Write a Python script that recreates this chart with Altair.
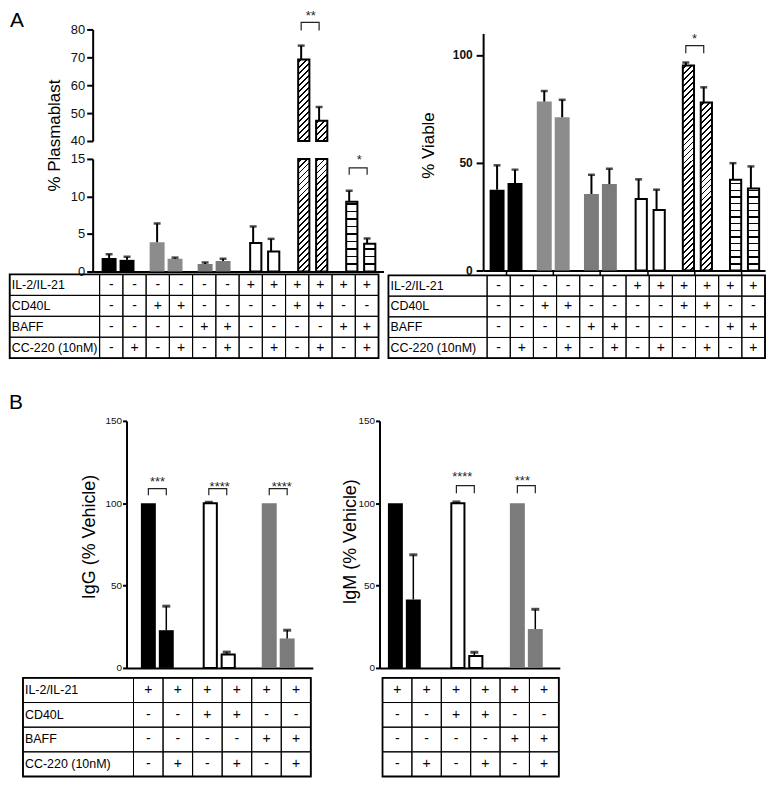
import altair as alt

# ------------------------------------------------------------------ data
GROUPS = ["G1", "G2", "G3", "G4", "G5", "G6"]
B_GROUPS = ["H1", "H2", "H3"]
SUBS = ["Vehicle", "CC-220"]

ROW_LABELS = ["IL-2/IL-21", "CD40L", "BAFF", "CC-220 (10nM)"]

A_IL = ["-", "-", "-", "-", "-", "-", "+", "+", "+", "+", "+", "+"]
A_CD40L = ["-", "-", "+", "+", "-", "-", "-", "-", "+", "+", "-", "-"]
A_BAFF = ["-", "-", "-", "-", "+", "+", "-", "-", "-", "-", "+", "+"]
A_CC = ["-", "+", "-", "+", "-", "+", "-", "+", "-", "+", "-", "+"]

B_IL = ["+", "+", "+", "+", "+", "+"]
B_CD40L = ["-", "-", "+", "+", "-", "-"]
B_BAFF = ["-", "-", "-", "-", "+", "+"]
B_CC = ["-", "+", "-", "+", "-", "+"]

A_STYLE = ["black", "black", "gray", "gray", "dgray", "dgray",
           "open", "open", "diag", "diag", "hline", "hline"]
B_STYLE = ["black", "black", "open", "open", "dgray", "dgray"]

PLASMA = [1.8, 1.55, 3.9, 1.7, 1.0, 1.4, 3.8, 2.65, 69.2, 47.3, 9.3, 3.7]
PLASMA_ERR = [2.3, 1.95, 6.4, 1.85, 1.2, 1.7, 6.0, 4.35, 74.2, 52.2, 10.75, 4.4]
VIABLE = [37.5, 40.6, 78.4, 71.1, 35.5, 40.1, 33.2, 28.1, 95.1, 77.9, 42.1, 38.0]
VIABLE_ERR = [48.8, 46.8, 83.3, 79.2, 44.4, 47.2, 42.3, 37.5, 96.5, 85.0, 49.8, 48.3]
IGG = [100, 22.9, 100, 8.2, 100, 17.9]
IGG_ERR = [None, 37.5, 100.6, 9.6, None, 22.9]
IGM = [100, 41.6, 100, 7.3, 100, 23.6]
IGM_ERR = [None, 68.7, 100.8, 9.5, None, 35.6]

# significance brackets: (group, stars, leg end, bracket top, label level) in data units
SIG_PLASMA_HI = [("G5", "**", 79.6, 82.5, 84.8)]
SIG_PLASMA_LO = [("G6", "*", 12.9, 13.8, 14.9)]
SIG_VIABLE = [("G5", "*", 100.8, 104.3, 107.2)]
SIG_IGG = [("H1", "***", 104.8, 108.9, 113.0),
           ("H2", "****", 104.8, 108.9, 110.1),
           ("H3", "****", 104.8, 108.9, 110.1)]
SIG_IGM = [("H2", "****", 106.0, 110.7, 116.0),
           ("H3", "***", 106.0, 110.7, 113.7)]

# ------------------------------------------------------------------ style
FONT = "Liberation Sans, Arial, sans-serif"
SOLID = {"black": "#000000", "gray": "#8c8c8c", "dgray": "#7b7b7b"}


def diag_fill(w, h, period=6.0, lw=1.9):
    tot = w + h
    stops = [{"offset": 0.0, "color": "#ffffff"}]
    s = period * 0.5
    while s < tot:
        a = round(max(0.0, (s - lw / 2) / tot), 5)
        b = round(min(1.0, (s + lw / 2) / tot), 5)
        stops += [{"offset": a, "color": "#ffffff"}, {"offset": a, "color": "#000000"},
                  {"offset": b, "color": "#000000"}, {"offset": b, "color": "#ffffff"}]
        s += period
    stops.append({"offset": 1.0, "color": "#ffffff"})
    d = (w * w + h * h) / tot
    return {"gradient": "linear", "x1": 0, "y1": 0,
            "x2": round(w / d, 5), "y2": round(h / d, 5), "stops": stops}


def hline_fill(h, period, lw=1.4):
    lines = []
    y = h - period
    while y > lw:
        lines.append(y)
        y -= period
    lines.sort()
    stops = [{"offset": 0.0, "color": "#ffffff"}]
    for y in lines:
        a = round((y - lw / 2) / h, 5)
        b = round((y + lw / 2) / h, 5)
        stops += [{"offset": a, "color": "#ffffff"}, {"offset": a, "color": "#000000"},
                  {"offset": b, "color": "#000000"}, {"offset": b, "color": "#ffffff"}]
    stops.append({"offset": 1.0, "color": "#ffffff"})
    return {"gradient": "linear", "x1": 0, "y1": 0, "x2": 0, "y2": 1, "stops": stops}


def bar_recs(groups, values, errs, styles, seg_h, open_w, hl_period):
    out = []
    for i, v in enumerate(values):
        st = styles[i]
        if st in SOLID:
            fill, is_open = SOLID[st], False
        elif st == "open":
            fill, is_open = "#ffffff", True
        elif st == "diag":
            fill, is_open = diag_fill(open_w, seg_h(v)), True
        else:
            fill, is_open = hline_fill(seg_h(v), hl_period), True
        out.append({"grp": groups[i // 2], "sub": SUBS[i % 2], "v": v,
                    "e": errs[i], "fill": fill, "open": is_open})
    return out


def bars_layers(recs, err_recs, sig, xs, xos, ys, base, yaxis, xaxis, open_band,
                err_w, cap_w, cap_t):
    XO = alt.XOffset("sub:N", scale=xos)
    solid = [r for r in recs if not r["open"]]
    opened = [r for r in recs if r["open"]]
    l_solid = alt.Chart(alt.Data(values=solid)).mark_bar(strokeWidth=0).encode(
        x=alt.X("grp:N", scale=xs, axis=xaxis), xOffset=XO,
        y=alt.Y("v:Q", scale=ys, axis=yaxis), y2=alt.datum(base),
        fill=alt.Fill("fill:N", scale=None))
    l_open = alt.Chart(alt.Data(values=opened)).mark_bar(
        stroke="black", strokeWidth=2, width={"band": open_band}).encode(
        x=alt.X("grp:N", scale=xs, axis=None), xOffset=XO,
        y=alt.Y("v:Q", scale=ys, axis=None), y2=alt.datum(base),
        fill=alt.Fill("fill:N", scale=None))
    l_err = alt.Chart(alt.Data(values=err_recs)).mark_rule(
        color="black", strokeWidth=err_w).encode(
        x=alt.X("grp:N", scale=xs, axis=None), xOffset=XO,
        y=alt.Y("v:Q", scale=ys, axis=None), y2="e:Q")
    l_cap = alt.Chart(alt.Data(values=err_recs)).mark_tick(
        orient="horizontal", color="black", size=cap_w, thickness=cap_t).encode(
        x=alt.X("grp:N", scale=xs, axis=None), xOffset=XO,
        y=alt.Y("e:Q", scale=ys, axis=None))
    brec, srec = [], []
    for j, (g, stars, leg, top, lab) in enumerate(sig):
        pts = [(SUBS[0], leg), (SUBS[0], top), (SUBS[1], top), (SUBS[1], leg)]
        for k, (s, lev) in enumerate(pts):
            brec.append({"id": j, "k": k, "grp": g, "sub": s, "lev": lev})
        srec.append({"grp": g, "t": stars, "lev": lab})
    l_br = alt.Chart(alt.Data(values=brec)).mark_line(
        color="#222222", strokeWidth=1.2).encode(
        x=alt.X("grp:N", scale=xs, axis=None), xOffset=XO,
        y=alt.Y("lev:Q", scale=ys, axis=None),
        detail="id:N", order="k:Q")
    l_st = alt.Chart(alt.Data(values=srec)).mark_text(
        font=FONT, fontSize=13, baseline="middle", color="#222222").encode(
        x=alt.X("grp:N", scale=xs, axis=None),
        y=alt.Y("lev:Q", scale=ys, axis=None), text="t:N")
    return [l_solid, l_open, l_err, l_cap, l_br, l_st]


def table_layers(rows, n, x_range, y_range, label_w):
    recs = []
    for r, vals in enumerate(rows):
        for c, s in enumerate(vals):
            recs.append({"x0": c, "x1": c + 1, "y0": r, "y1": r + 1, "t": s, "kind": "sign"})
        if label_w > 0:
            recs.append({"x0": -label_w, "x1": 0, "y0": r, "y1": r + 1,
                         "t": ROW_LABELS[r], "kind": "label"})
    tx = alt.Scale(domain=[0, n], range=x_range, zero=False, nice=False)
    ty = alt.Scale(domain=[0, 4], range=y_range, zero=False, nice=False)
    base = alt.Chart(alt.Data(values=recs))
    grid = base.mark_rect(fillOpacity=0, stroke="black", strokeWidth=1).encode(
        x=alt.X("x0:Q", scale=tx, axis=None), x2="x1:Q",
        y=alt.Y("y0:Q", scale=ty, axis=None), y2="y1:Q")
    border = alt.Chart(alt.Data(values=[{"x0": -label_w, "x1": n, "y0": 0, "y1": 4}])).mark_rect(
        fillOpacity=0, stroke="black", strokeWidth=1.8).encode(
        x=alt.X("x0:Q", scale=tx, axis=None), x2="x1:Q",
        y=alt.Y("y0:Q", scale=ty, axis=None), y2="y1:Q")
    signs = base.transform_filter("datum.kind == 'sign'").transform_calculate(
        xm="datum.x0 + 0.5", ym="datum.y0 + 0.5").mark_text(
        font=FONT, fontSize=14, baseline="middle", color="black").encode(
        x=alt.X("xm:Q", scale=tx, axis=None), y=alt.Y("ym:Q", scale=ty, axis=None), text="t:N")
    out = [grid, border, signs]
    if label_w > 0:
        labs = base.transform_filter("datum.kind == 'label'").transform_calculate(
            ym="datum.y0 + 0.5").mark_text(
            font=FONT, fontSize=12.5, baseline="middle", align="left", dx=2,
            color="black").encode(
            x=alt.X("x0:Q", scale=tx, axis=None), y=alt.Y("ym:Q", scale=ty, axis=None),
            text="t:N")
        out.append(labs)
    return out


def yaxis(values, title, tx, ty, size, tick, offset=0, bold=False, pad=2, tsize=17):
    return alt.Axis(orient="left", values=values, title=title, titleX=tx, titleY=ty,
                    titleAngle=270, titleBaseline="middle", titleAlign="center",
                    titleFont=FONT, titleFontSize=tsize, titleFontWeight="normal",
                    titleColor="black", labelFont=FONT, labelFontSize=size,
                    labelFontWeight="bold" if bold else "normal", labelPadding=pad,
                    tickSize=tick, tickWidth=2, tickColor="black", domainWidth=2,
                    domainColor="black", labelColor="#111111", grid=False, offset=offset)


def xaxis(ticks=False):
    return alt.Axis(orient="bottom", labels=False, ticks=ticks, tickSize=5, tickWidth=1.5,
                    title=None, domainWidth=2, domainColor="black", tickColor="black",
                    grid=False)


XO_A = alt.Scale(domain=SUBS, range=[0, 36], paddingInner=1 / 6, paddingOuter=1 / 12)
XO_B = alt.Scale(domain=SUBS, range=[0, 40], paddingInner=0.283, paddingOuter=0.011)

# ------------------------------------------------------------------ panel A left
PX_HI = 112 / 40
PX_LO = 113 / 15
xs_al = alt.Scale(domain=GROUPS, range=[0, 292], paddingInner=0.254, paddingOuter=0.1555)
ys_hi = alt.Scale(domain=[40, 80], range=[112, 0], zero=False, nice=False)
ys_lo = alt.Scale(domain=[0, 15], range=[243, 130], zero=False, nice=False, clamp=True)

hi_recs = [r for r in bar_recs(GROUPS, PLASMA, PLASMA_ERR, A_STYLE,
                               lambda v: (v - 40) * PX_HI, 11.25, 7.53) if r["v"] > 40]
lo_recs = bar_recs(GROUPS, PLASMA, PLASMA_ERR, A_STYLE,
                   lambda v: min(v, 15) * PX_LO, 11.25, 7.53)
upper = bars_layers(hi_recs, [r for r in hi_recs if r["e"] is not None], SIG_PLASMA_HI,
                    xs_al, XO_A, ys_hi, 40,
                    yaxis([40, 50, 60, 70, 80], "% Plasmablast", -38, 106, 13, 6),
                    None, 0.75, 2, 7, 2.5)
lower = bars_layers(lo_recs, [r for r in lo_recs if r["e"] is not None and r["e"] < 15],
                    SIG_PLASMA_LO, xs_al, XO_A, ys_lo, 0,
                    yaxis([0, 5, 10, 15], None, 0, 0, 13, 6),
                    xaxis(False), 0.75, 2, 7, 2.5)
tab_al = table_layers([A_IL, A_CD40L, A_BAFF, A_CC], 12, [7, 287], [246, 330], 3.87)
A_left = alt.layer(*upper, *lower, *tab_al).resolve_scale(
    x="independent", y="independent").properties(
    width=392, height=243,
    title=alt.TitleParams("A", anchor="start", frame="group", fontSize=21, font=FONT,
                          fontWeight="normal", color="black", dx=-83, dy=30, offset=9))

# ------------------------------------------------------------------ panel A right
PX_V = 238 / 110
xs_ar = alt.Scale(domain=GROUPS, range=[0, 283], paddingInner=0.237, paddingOuter=0.106)
ys_ar = alt.Scale(domain=[0, 110], range=[242, 4], zero=False, nice=False)
ar_recs = bar_recs(GROUPS, VIABLE, VIABLE_ERR, A_STYLE, lambda v: v * PX_V, 11.25, 6.7)
viab = bars_layers(ar_recs, ar_recs, SIG_VIABLE, xs_ar, XO_A, ys_ar, 0,
                   yaxis([0, 50, 100], "% Viable", -55, 116, 12, 7, bold=True, pad=4),
                   xaxis(True), 0.75, 2, 7, 2.5)
tab_ar = table_layers([A_IL, A_CD40L, A_BAFF, A_CC], 12, [4, 283], [247, 330], 4.26)
A_right = alt.layer(*viab, *tab_ar).resolve_scale(
    x="independent", y="independent").properties(width=283, height=242)

# ------------------------------------------------------------------ panel B
# B_right sits in the same grid column as A_right; its content is pulled left by SHIFT px
SHIFT = 104
ys_b = alt.Scale(domain=[0, 150], zero=False, nice=False)
xs_bl = alt.Scale(domain=B_GROUPS, range=[34, 221], paddingInner=0.344, paddingOuter=0.213)
xs_br = alt.Scale(domain=B_GROUPS, range=[-SHIFT, 181 - SHIFT], paddingInner=0.344,
                  paddingOuter=0.15, align=0.377)
bl_recs = bar_recs(B_GROUPS, IGG, IGG_ERR, B_STYLE, lambda v: v, 14.5, 7)
br_recs = bar_recs(B_GROUPS, IGM, IGM_ERR, B_STYLE, lambda v: v, 14.5, 7)
igg = bars_layers(bl_recs, [r for r in bl_recs if r["e"] is not None], SIG_IGG,
                  xs_bl, XO_B, ys_b, 0,
                  yaxis([0, 50, 100, 150], "IgG (% Vehicle)", -37, 116, 10, 4,
                        offset=-34, pad=1, tsize=18),
                  xaxis(False), 0.88, 1.5, 8, 3)
igm = bars_layers(br_recs, [r for r in br_recs if r["e"] is not None], SIG_IGM,
                  xs_br, XO_B, ys_b, 0,
                  yaxis([0, 50, 100, 150], "IgM (% Vehicle)", -29, 121, 10, 4,
                        offset=SHIFT, pad=1, tsize=18),
                  xaxis(False), 0.88, 1.5, 8, 3)
tab_bl = table_layers([B_IL, B_CD40L, B_BAFF, B_CC], 6, [41, 219], [258, 357], 3.74)
tab_br = table_layers([B_IL, B_CD40L, B_BAFF, B_CC], 6, [3 - SHIFT, 180 - SHIFT],
                      [258, 357], 0)
B_left = alt.layer(*igg, *tab_bl).resolve_scale(
    x="independent", y="independent").properties(
    width=288, height=248,
    title=alt.TitleParams("B", anchor="start", frame="group", fontSize=21, font=FONT,
                          fontWeight="normal", color="black", dx=-84, dy=8, offset=11))
B_right = alt.layer(*igm, *tab_br).resolve_scale(
    x="independent", y="independent").properties(width=181 - SHIFT, height=248)

chart = alt.concat(
    A_left, A_right, B_left, B_right, columns=2,
    spacing={"row": 150, "column": 0}, bounds="flush", align="each",
).properties(padding=0).configure_view(strokeWidth=0)

chart.save("out.html", embed_options={"renderer": "svg", "actions": False})
